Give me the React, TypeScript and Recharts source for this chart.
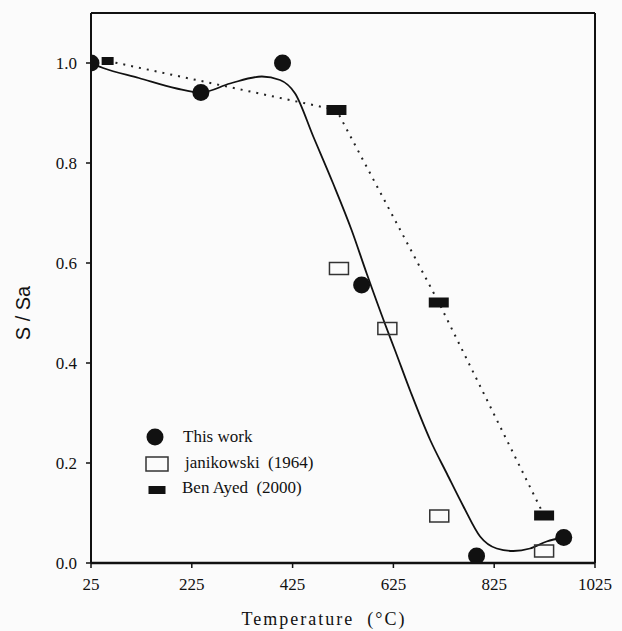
import React from 'react';
import {
  ComposedChart,
  Line,
  Scatter,
  XAxis,
  YAxis,
  ReferenceLine,
} from 'recharts';

// This work (filled circles)
const thisWork = [
  { x: 25, y: 1.0 },
  { x: 243, y: 0.941 },
  { x: 405, y: 1.0 },
  { x: 562, y: 0.556 },
  { x: 790, y: 0.014 },
  { x: 963, y: 0.051 },
];

// janikowski (1964) (open squares)
const janikowski = [
  { x: 517, y: 0.589 },
  { x: 613, y: 0.469 },
  { x: 716, y: 0.094 },
  { x: 924, y: 0.024 },
];

// Ben Ayed (2000) (filled rectangles, dotted line)
const benAyed = [
  { x: 58, y: 1.004 },
  { x: 512, y: 0.906 },
  { x: 715, y: 0.521 },
  { x: 924, y: 0.095 },
];

// smooth fit through "This work"
const fitCurve = [
  { x: 25, y: 1.0 },
  { x: 49, y: 0.99 },
  { x: 120, y: 0.97 },
  { x: 195, y: 0.949 },
  { x: 243, y: 0.941 },
  { x: 301, y: 0.959 },
  { x: 364, y: 0.973 },
  { x: 400, y: 0.966 },
  { x: 430, y: 0.939 },
  { x: 466, y: 0.853 },
  { x: 505, y: 0.76 },
  { x: 542, y: 0.666 },
  { x: 572, y: 0.579 },
  { x: 608, y: 0.479 },
  { x: 628, y: 0.426 },
  { x: 660, y: 0.34 },
  { x: 698, y: 0.246 },
  { x: 731, y: 0.179 },
  { x: 764, y: 0.113 },
  { x: 797, y: 0.053 },
  { x: 830, y: 0.029 },
  { x: 863, y: 0.024 },
  { x: 896, y: 0.029 },
  { x: 929, y: 0.043 },
  { x: 963, y: 0.051 },
];

const xTicks = [25, 225, 425, 625, 825, 1025];
const yTicks = [0, 0.2, 0.4, 0.6, 0.8, 1.0];

const INK = '#111';
const tickStyle = { fontSize: 17, fill: INK, fontFamily: '"Liberation Serif", serif' };

const Circle = (props: any) => (
  <circle cx={props.cx} cy={props.cy} r={8.5} fill={INK} />
);

const OpenSquare = (props: any) => (
  <rect
    x={props.cx - 9.5}
    y={props.cy - 6}
    width={19}
    height={12}
    fill="none"
    stroke="#333"
    strokeWidth={1.5}
  />
);

const BlockDot = (props: any) => {
  const { cx, cy, index } = props;
  const w = index === 0 ? 12 : 20;
  const h = index === 0 ? 8 : 10;
  return <rect key={`b-${index}`} x={cx - w / 2} y={cy - h / 2} width={w} height={h} fill={INK} />;
};

export default function App() {
  return (
    <div
      style={{
        position: 'absolute',
        left: 0,
        top: 0,
        width: 622,
        height: 631,
        background: '#fbfbfb',
      }}
    >
      <ComposedChart
        width={622}
        height={631}
        margin={{ top: 13, right: 27, bottom: 38, left: 31 }}
      >
        <XAxis
          type="number"
          dataKey="x"
          domain={[25, 1025]}
          ticks={xTicks}
          allowDataOverflow
          axisLine={{ stroke: INK, strokeWidth: 2.5 }}
          tickLine={{ stroke: INK, strokeWidth: 1.5 }}
          tickSize={5}
          tickMargin={10}
          tick={tickStyle}
          height={30}
        />
        <YAxis
          type="number"
          dataKey="y"
          domain={[0, 1.1]}
          ticks={yTicks}
          allowDataOverflow
          tickFormatter={(v: number) => v.toFixed(1)}
          axisLine={{ stroke: INK, strokeWidth: 2 }}
          tickLine={{ stroke: INK, strokeWidth: 1.5 }}
          tickSize={5}
          tickMargin={9}
          tick={tickStyle}
          width={60}
        />
        <ReferenceLine y={1.1} stroke={INK} strokeWidth={2} />
        <ReferenceLine x={1025} stroke={INK} strokeWidth={2} />

        <Line
          data={fitCurve}
          dataKey="y"
          type="monotone"
          stroke={INK}
          strokeWidth={1.8}
          dot={false}
          activeDot={false}
          isAnimationActive={false}
        />
        <Line
          data={benAyed}
          dataKey="y"
          type="linear"
          stroke="#222"
          strokeWidth={2}
          strokeDasharray="2 6"
          dot={BlockDot}
          activeDot={false}
          isAnimationActive={false}
        />
        <Scatter data={janikowski} shape={OpenSquare} isAnimationActive={false} />
        <Scatter data={thisWork} shape={Circle} isAnimationActive={false} />
      </ComposedChart>

      {/* legend */}
      <div style={{ position: 'absolute', left: 0, top: 0, fontFamily: '"Liberation Serif", serif', fontSize: 17, color: INK }}>
        <svg width={622} height={631} style={{ position: 'absolute', left: 0, top: 0, pointerEvents: 'none' }}>
          <circle cx={155} cy={437} r={8.5} fill={INK} />
          <rect x={146} y={457} width={22} height={14} fill="none" stroke="#333" strokeWidth={1.5} />
          <rect x={148.5} y={486} width={17} height={8} fill={INK} />
        </svg>
        <div style={{ position: 'absolute', left: 183, top: 427, lineHeight: '20px', whiteSpace: 'pre' }}>This work</div>
        <div style={{ position: 'absolute', left: 185, top: 453, lineHeight: '20px', whiteSpace: 'pre' }}>janikowski  (1964)</div>
        <div style={{ position: 'absolute', left: 182, top: 478, lineHeight: '20px', whiteSpace: 'pre' }}>Ben Ayed  (2000)</div>
      </div>

      {/* axis titles */}
      <div
        style={{
          position: 'absolute',
          left: 324,
          top: 619,
          transform: 'translate(-50%, -50%)',
          fontFamily: '"Liberation Serif", serif',
          fontSize: 18,
          letterSpacing: 2,
          whiteSpace: 'pre',
          color: INK,
        }}
      >
        Temperature  (°C)
      </div>
      <div
        style={{
          position: 'absolute',
          left: 23,
          top: 313,
          transform: 'translate(-50%, -50%) rotate(-90deg)',
          fontFamily: '"Liberation Sans", Arial, sans-serif',
          fontSize: 20,
          whiteSpace: 'pre',
          color: INK,
        }}
      >
        S / Sa
      </div>
    </div>
  );
}
